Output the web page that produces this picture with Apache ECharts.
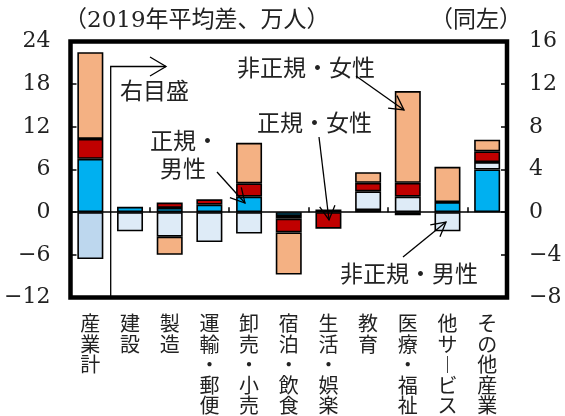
<!DOCTYPE html>
<html>
<head>
<meta charset="utf-8">
<script src="https://cdn.jsdelivr.net/npm/echarts@6/dist/echarts.min.js"></script>
<style>
  html, body { margin: 0; padding: 0; background: #fff; }
  #chart { width: 565px; height: 416px; }
</style>
</head>
<body>
<div id="chart"></div>
<script>
// Industries (first one, the all-industry total, is read on the left scale)
const categories = ['産業計', '建設', '製造', '運輸・郵便', '卸売・小売', '宿泊・飲食',
                    '生活・娯楽', '教育', '医療・福祉', '他サービス', 'その他産業'];

// Change from the 2019 average, 10k persons
const regularMale     = [7.5, 0.5, 0.4, 0.7, 1.45, -0.35, 0.25, 0.2, -0.3, 0.95, 4.0];
const irregularMale   = [-6.6, -1.8, -2.3, -2.8, -2.0, -0.25, '-', 1.75, 1.45, -1.8, 0.7];
const regularFemale   = [2.8, '-', 0.5, 0.5, 1.25, -1.3, -1.55, 0.8, 1.3, '-', 1.0];
const irregularFemale = [12.2, '-', -1.7, '-', 3.8, -3.95, '-', 1.0, 8.6, 3.3, 1.1];

// Axis ticks
const leftTicks  = [-12, -6, 0, 6, 12, 18, 24];
const rightTicks = [-8, -4, 0, 4, 8, 12, 16];

const CJK = 'Noto Sans CJK JP';
const SERIF = '"DejaVu Serif"';
const MIXED = '"DejaVu Serif", "Noto Sans CJK JP"';
const TEXT = '#222';

const groups = [
  { name: '正規・男性',   data: regularMale,     color: '#00B0F0', firstColor: '#00B0F0' },
  { name: '非正規・男性', data: irregularMale,   color: '#DEEBF7', firstColor: '#BDD7EE' },
  { name: '正規・女性',   data: regularFemale,   color: '#C00000', firstColor: '#C00000' },
  { name: '非正規・女性', data: irregularFemale, color: '#F4B183', firstColor: '#F4B183' }
];

const series = [];
groups.forEach(g => {
  series.push({
    name: g.name + '(左)', type: 'bar', stack: 'left', yAxisIndex: 0, xAxisIndex: 0,
    barWidth: 26, barGap: '-100%',
    itemStyle: { color: g.firstColor, borderColor: '#000', borderWidth: 1.6 },
    data: g.data.map((v, i) => i === 0 ? v : '-')
  });
  series.push({
    name: g.name, type: 'bar', stack: 'right', yAxisIndex: 1, xAxisIndex: 0,
    barWidth: 26, barGap: '-100%',
    itemStyle: { color: g.color, borderColor: '#000', borderWidth: 1.6 },
    data: g.data.map((v, i) => i === 0 ? '-' : v)
  });
});

// Vertical writing: one character per line, long-vowel mark turned upright
const verticalLabel = s => s.split('').map(c => c === 'ー' ? '︱' : c).join('\n');
const minus = v => String(v).replace('-', '−');

function yAxis(ticks, side) {
  return {
    type: 'value', position: side,
    min: ticks[0], max: ticks[ticks.length - 1], interval: ticks[1] - ticks[0],
    axisLine: { show: false },
    axisTick: { show: true, inside: true, length: 6, lineStyle: { color: '#000', width: 1.5 } },
    splitLine: { show: false },
    axisLabel: {
      fontFamily: SERIF, fontSize: 22, color: TEXT,
      margin: side === 'left' ? 20 : 22,
      formatter: minus
    }
  };
}

const chart = echarts.init(document.getElementById('chart'), null, { renderer: 'canvas' });

// Annotation helpers
function arrow(x1, y1, x2, y2, len = 16, spread = 0.5) {
  const a = Math.atan2(y2 - y1, x2 - x1);
  const p1 = [x2 - len * Math.cos(a - spread), y2 - len * Math.sin(a - spread)];
  const p2 = [x2 - len * Math.cos(a + spread), y2 - len * Math.sin(a + spread)];
  const st = { stroke: '#000', lineWidth: 1.3, fill: null };
  return [
    { type: 'line', shape: { x1, y1, x2, y2 }, style: st, z: 10 },
    { type: 'polyline', shape: { points: [p1, [x2, y2], p2] }, style: st, z: 10 }
  ];
}
function label(text, x, y, size = 23) {
  return { type: 'text', x, y, z: 10,
    style: { text, fill: TEXT, fontSize: size, fontFamily: CJK, verticalAlign: 'middle', align: 'left' } };
}

const graphics = [
  { type: 'text', x: 64, y: 21, style: { text: '（2019年平均差、万人）', fill: TEXT,
      fontSize: 23, fontFamily: MIXED, verticalAlign: 'middle' } },
  { type: 'text', x: 430, y: 21, style: { text: '（同左）', fill: TEXT,
      fontSize: 23, fontFamily: MIXED, verticalAlign: 'middle' } },
  // right-scale marker
  { type: 'polyline', z: 10, shape: { points: [[110.7, 297], [110.7, 66.5], [166, 66.5]] },
    style: { stroke: '#000', lineWidth: 1.3, fill: null } },
  { type: 'polyline', z: 10, shape: { points: [[150, 57], [166, 66.5], [150, 76]] },
    style: { stroke: '#000', lineWidth: 1.3, fill: null } },
  label('右目盛', 120, 90),
  label('非正規・女性', 237, 67),
  ...arrow(356, 76, 404, 110),
  label('正規・女性', 257, 122),
  ...arrow(319, 137, 329, 220),
  label('正規・', 150, 140),
  label('男性', 160, 168),
  ...arrow(217, 172, 245, 203),
  label('非正規・男性', 340, 273),
  ...arrow(403, 257, 446, 222)
];

chart.setOption({
  animation: false,
  backgroundColor: '#fff',
  grid: { left: 70.5, right: 58, top: 41.5, bottom: 118.5, show: true,
          borderColor: '#000', borderWidth: 4.5, backgroundColor: 'transparent' },
  xAxis: [
    {
      type: 'category', data: categories, position: 'bottom',
      axisLine: { show: false, onZero: false }, axisTick: { show: false },
      axisLabel: { interval: 0, fontFamily: CJK, fontSize: 20, lineHeight: 20.5,
                   color: TEXT, margin: 16, verticalAlign: 'top',
                   formatter: verticalLabel }
    },
    {
      type: 'category', data: categories, position: 'bottom',
      axisLine: { show: true, onZero: true, lineStyle: { color: '#000', width: 1.5 } },
      axisTick: { show: true, inside: true, length: 5, alignWithLabel: false,
                  lineStyle: { color: '#000', width: 1.5 } },
      axisLabel: { show: false }
    }
  ],
  yAxis: [yAxis(leftTicks, 'left'), yAxis(rightTicks, 'right')],
  series,
  graphic: graphics
});
</script>
</body>
</html>
